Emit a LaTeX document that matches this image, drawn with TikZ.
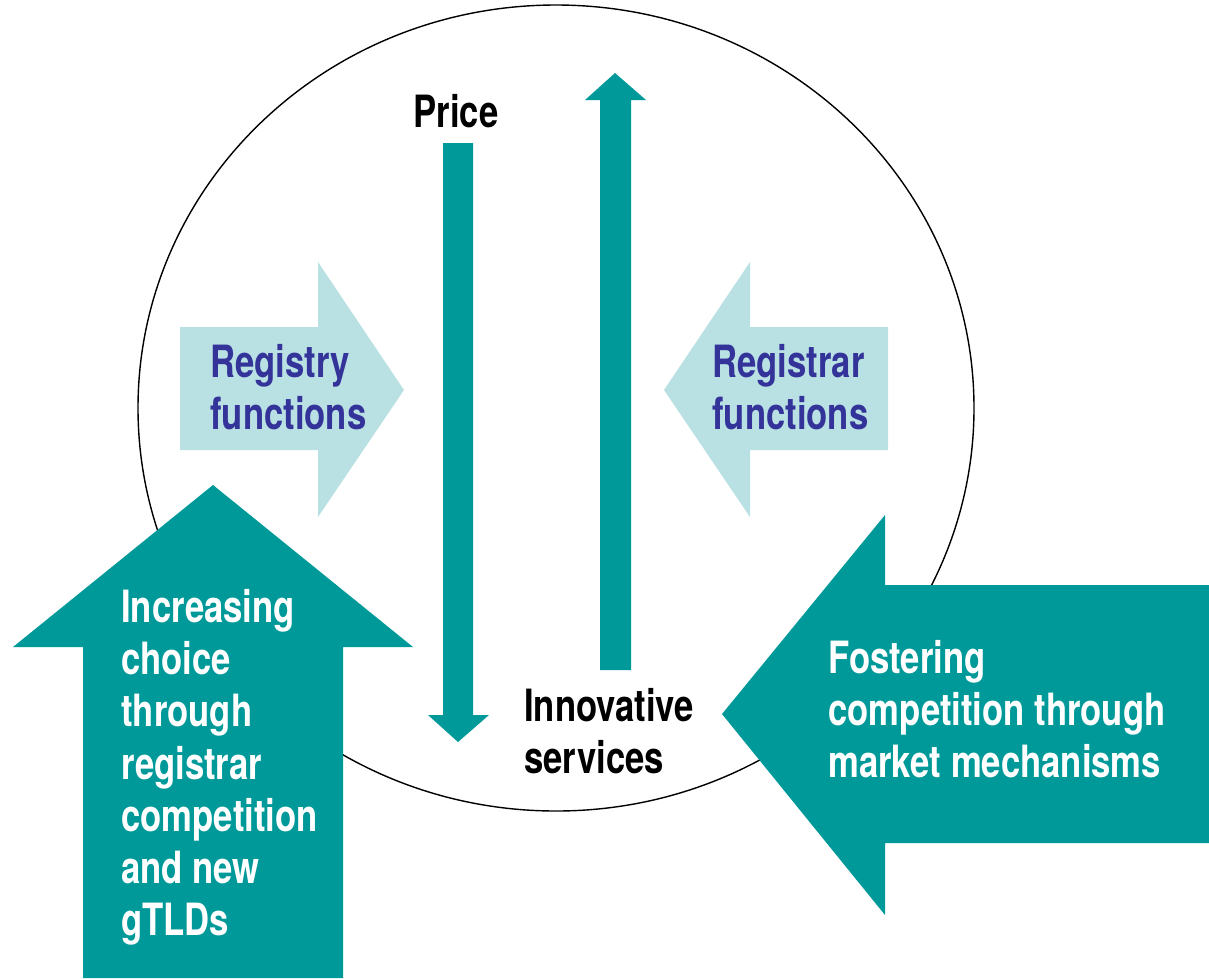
\documentclass[tikz,border=0pt]{standalone}
\usepackage{fontspec}
\setmainfont[FakeStretch=0.78]{TeX Gyre Heros}
\usetikzlibrary{positioning}
\definecolor{icteal}{RGB}{0,153,153}
\definecolor{icpale}{RGB}{185,224,227}
\definecolor{icblue}{RGB}{51,51,153}
\tikzstyle{bigarrow}=[fill=icteal]
\tikzstyle{softarrow}=[fill=icpale]
\tikzstyle{blocktext}=[anchor=base west,align=left,inner sep=0pt,font=\bfseries\fontsize{25.3}{29.6}\selectfont]

\begin{document}
\begin{tikzpicture}[x=0.02cm,y=-0.02cm]
    \useasboundingbox (0,0) rectangle (1209,978);
    % The market circle
    \draw[line width=0.8pt] (556,408) ellipse [x radius=418, y radius=403];
    % Price and innovation arrows
    \fill[bigarrow] (443,143) -- (473,143) -- (473,715) -- (489,715) -- (458,742) -- (428,715) -- (443,715) -- cycle;
    \fill[bigarrow] (600,670) -- (631,670) -- (631,100) -- (646,100) -- (615,73) -- (585,100) -- (600,100) -- cycle;
    % Functions arrows
    \fill[softarrow] (180,327) -- (318,327) -- (318,262) -- (404,390) -- (318,517) -- (318,450) -- (180,450) -- cycle;
    \fill[softarrow] (888,327) -- (750,327) -- (750,262) -- (664,390) -- (750,517) -- (750,450) -- (888,450) -- cycle;
    % Policy arrows
    \fill[bigarrow] (83,978) -- (83,647) -- (13,647) -- (213,485) -- (413,647) -- (343,647) -- (343,978) -- cycle;
    \fill[bigarrow] (1209,585) -- (885,585) -- (885,515) -- (722,714) -- (885,915) -- (885,843) -- (1209,843) -- cycle;
    % Then the texts (base is the last line)
    \node[blocktext,anchor=base] (price) at (456,127) {Price};
    \node[blocktext] (innovative) at (524,773) {Innovative\\services};
    \foreach \pos/\name/\txt in {{(210,429)/registry/Registry}, {(712,429)/registrar/Registrar}}
        \node[blocktext,text=icblue] (\name) at \pos {\txt\\functions};
    \node[blocktext,text=white] (choice) at (121,935) {Increasing\\choice\\through\\registrar\\competition\\and new\\gTLDs};
    \node[blocktext,text=white] (fostering) at (828,777) {Fostering\\competition through\\market mechanisms};
\end{tikzpicture}
\end{document}
